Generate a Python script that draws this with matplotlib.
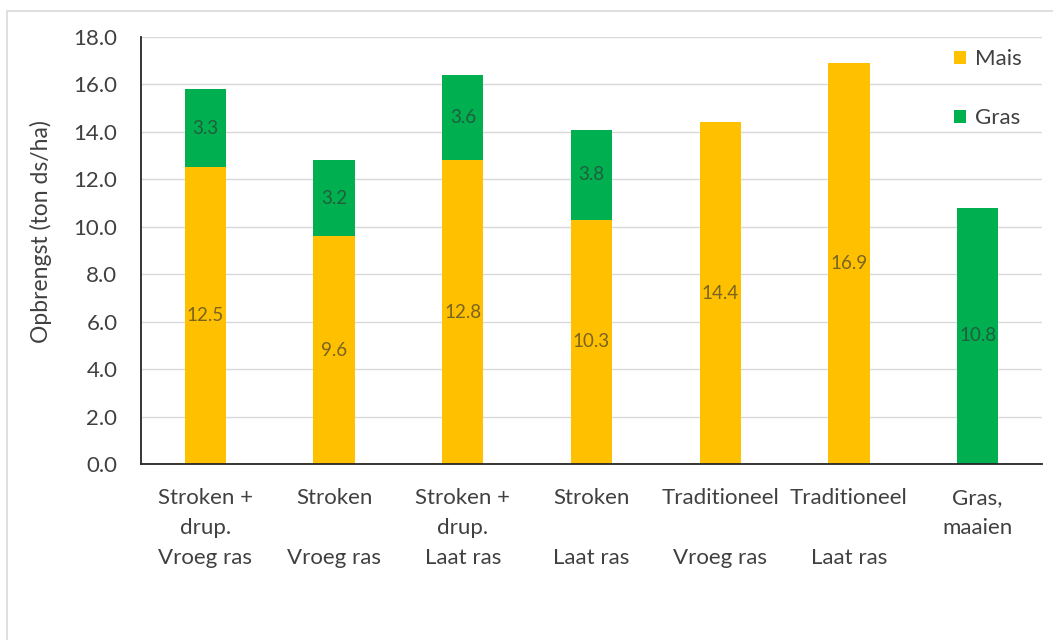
import matplotlib
matplotlib.use("Agg")
import matplotlib.pyplot as plt
from matplotlib.patches import Rectangle
import numpy as np

plt.rcParams['font.family'] = ['Lato', 'DejaVu Sans']

categories = [
    "Stroken +\ndrup.\nVroeg ras",
    "Stroken\n\nVroeg ras",
    "Stroken +\ndrup.\nLaat ras",
    "Stroken\n\nLaat ras",
    "Traditioneel\n\nVroeg ras",
    "Traditioneel\n\nLaat ras",
    "Gras,\nmaaien",
]
mais = [12.5, 9.6, 12.8, 10.3, 14.4, 16.9, 0.0]
gras = [3.3, 3.2, 3.6, 3.8, 0.0, 0.0, 10.8]
y_ticks = [0, 2, 4, 6, 8, 10, 12, 14, 16, 18]

mais_color = "#FFC000"
gras_color = "#00B050"
text_color = "#404040"
font_size = 16

fig = plt.figure(figsize=(10.53, 6.4), dpi=100)
ax = fig.add_axes([141 / 1053, 1 - 464 / 640, (1042 - 141) / 1053, (464 - 37) / 640])

# light frame around the chart area
fig.patches.append(Rectangle((7 / 1053, -0.05), 1.1, 1 - 11 / 640 + 0.05,
                             transform=fig.transFigure, fill=False,
                             edgecolor="#D9D9D9", linewidth=1.2, zorder=0))

x = np.arange(len(categories))
width = 0.32
ax.bar(x, mais, width, color=mais_color, label="Mais", zorder=2)
ax.bar(x, gras, width, bottom=mais, color=gras_color, label="Gras", zorder=2)

for i in range(len(categories)):
    if mais[i] > 0:
        ax.text(x[i], mais[i] / 2, f"{mais[i]:.1f}", ha="center", va="center",
                fontsize=13.5, color="#333333", alpha=0.65, zorder=3)
    if gras[i] > 0:
        ax.text(x[i], mais[i] + gras[i] / 2, f"{gras[i]:.1f}", ha="center", va="center",
                fontsize=13.5, color="#333333", alpha=0.65, zorder=3)

ax.set_xlim(-0.5, len(categories) - 0.5)
ax.set_ylim(0, 18)
ax.set_yticks(y_ticks)
ax.set_yticklabels([f"{v:.1f}" for v in y_ticks])
ax.yaxis.grid(True, color="#D9D9D9", linewidth=1.0, zorder=0)
ax.set_axisbelow(True)
ax.tick_params(axis="both", length=0, labelsize=font_size, colors=text_color)
ax.tick_params(axis="y", pad=17)
ax.tick_params(axis="x", pad=17)
ax.set_xticks(x)
ax.set_xticklabels(categories, linespacing=1.64, va="top")
for s in ["top", "right"]:
    ax.spines[s].set_visible(False)
for s in ["left", "bottom"]:
    ax.spines[s].set_color("#262626")
    ax.spines[s].set_linewidth(1.3)

ax.set_ylabel("Opbrengst (ton ds/ha)", fontsize=16.5, color=text_color)
ax.yaxis.set_label_coords(-(141 - 52) / 901, (464 - 232) / 427)

ax.legend(loc="upper right", bbox_to_anchor=(1.0, 1.018), frameon=False,
          fontsize=font_size, labelspacing=1.75, handlelength=0.55, handleheight=0.55,
          handletextpad=0.4, labelcolor=text_color)

fig.savefig("out.png", dpi=100, facecolor="white")
